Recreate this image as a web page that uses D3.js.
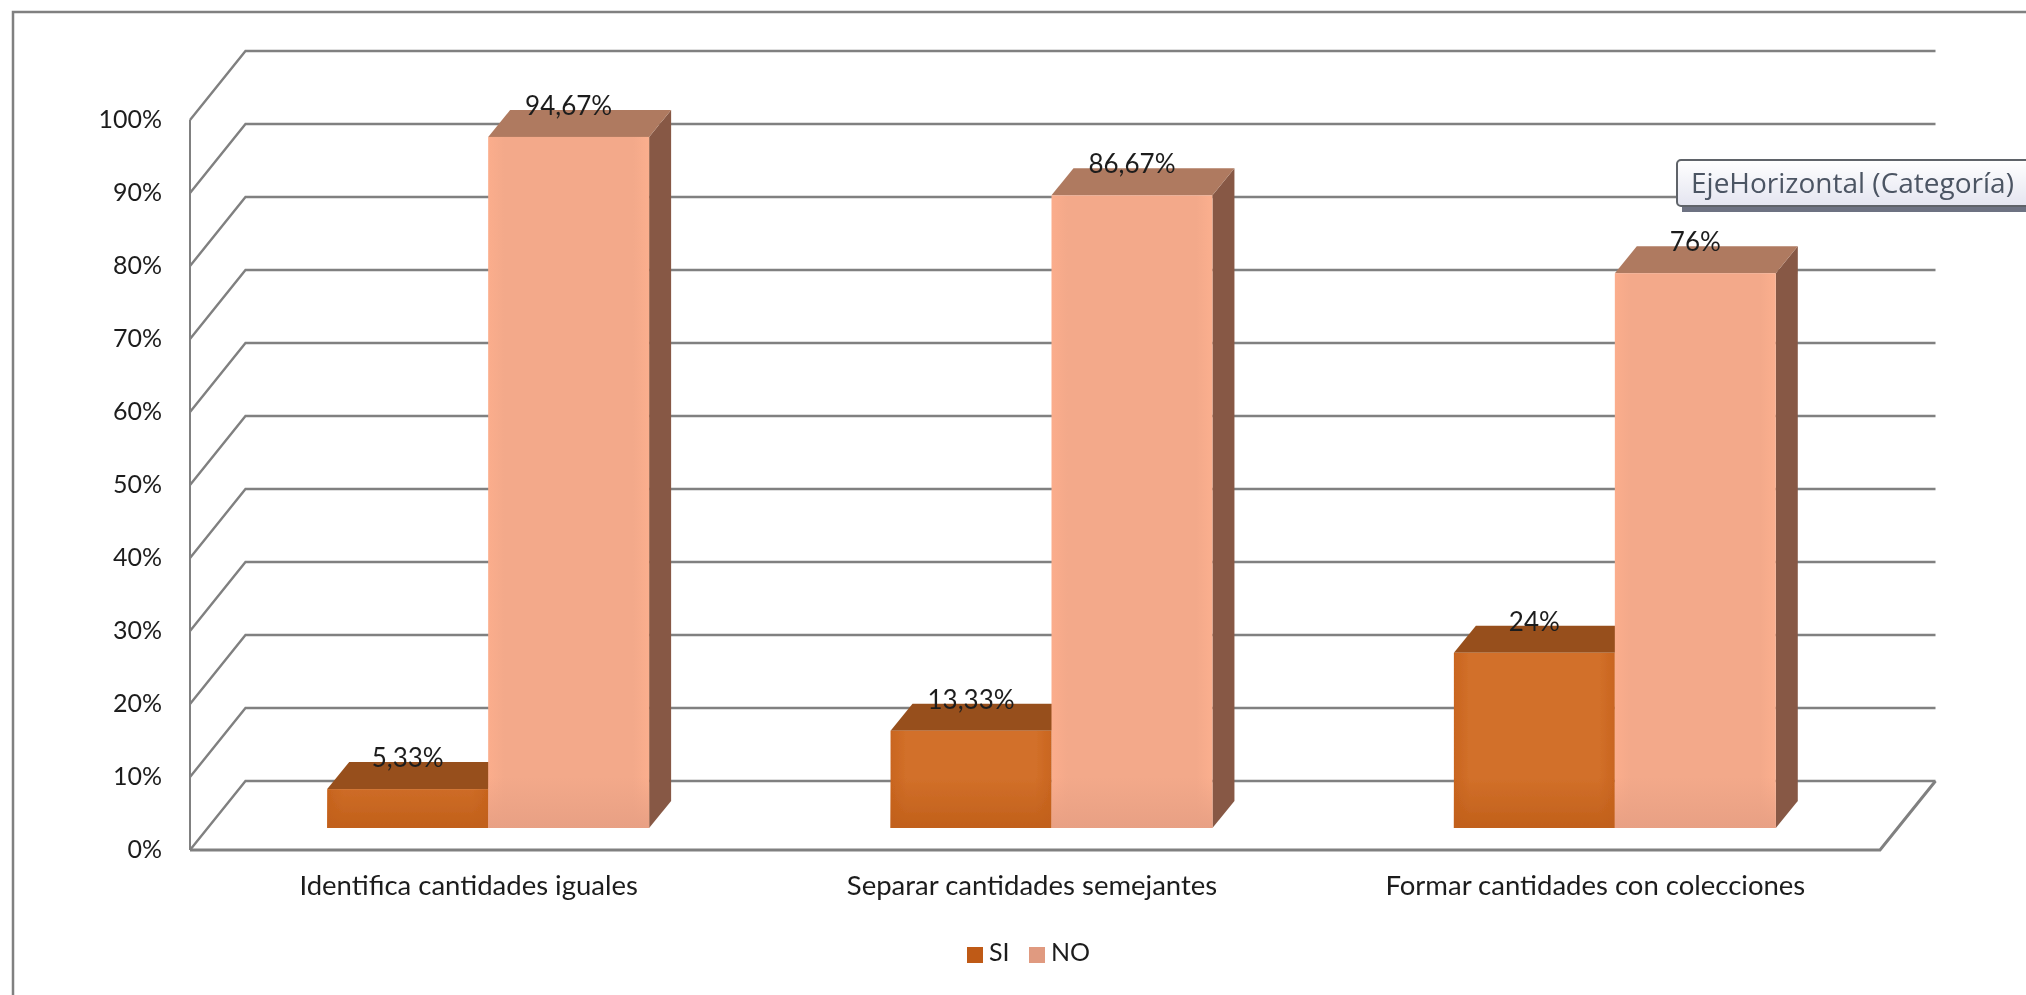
<!DOCTYPE html>
<html lang="es">
<head>
<meta charset="utf-8">
<title>Identifica cantidades</title>
<script src="https://cdn.jsdelivr.net/npm/d3@7"></script>
<style>
    html, body { margin: 0; padding: 0; background: #fff; overflow: hidden; }
    svg { display: block; }
    text { font-family: Lato, "Noto Sans", sans-serif; fill: #1e1e1e; }
</style>
</head>
<body>
<svg id="chart" width="2026" height="995"></svg>
<script>
// Chart data
const categories = ['Identifica cantidades iguales', 'Separar cantidades semejantes', 'Formar cantidades con colecciones'];
const seriesNames = ['SI', 'NO'];
const siValues = [5.33, 13.33, 24];
const noValues = [94.67, 86.67, 76];
const yTicks = [0, 10, 20, 30, 40, 50, 60, 70, 80, 90, 100];
const tooltipLabel = 'EjeHorizontal (Categoría)';

const width = 2026;
const height = 995;
const gridColor = '#808080';

// Plot box, front plane of the floor
const plot = { left: 190, right: 1880, top: 120, bottom: 850 };
const wallDepth = { x: 55.5, y: -69 };   // front plane to back wall
const floorInset = { x: 16.5, y: -22 };  // front plane to front of the bars
const barDepth = { x: 22, y: -27 };      // thickness of a bar

const colors = {
    SI: { left: '#c9651f', mid: '#d2702a', right: '#c9651f', foot: '#c1601b', top: '#97501d', side: '#7d4518', key: '#bf5a12' },
    NO: { left: '#fbad8c', mid: '#f3a98a', right: '#fbaf8e', foot: '#e8a084', top: '#af7a60', side: '#875945', key: '#e09a80' }
};

// Scales
const yScale = d3.scaleLinear().domain([0, 100]).range([plot.bottom, plot.top]);

const xScale = d3.scaleBand()
    .domain(categories)
    .range([plot.left, plot.right]);

const xInner = d3.scaleBand()
    .domain(seriesNames)
    .range([0, xScale.bandwidth()])
    .paddingInner(0)
    .paddingOuter(0.75);

const svg = d3.select('#chart');
const defs = svg.append('defs');

const addBlur = (id, amount) => defs.append('filter').attr('id', id)
    .attr('filterUnits', 'userSpaceOnUse')
    .attr('x', 0).attr('y', 0)
    .attr('width', width).attr('height', height)
    .append('feGaussianBlur').attr('stdDeviation', amount);

addBlur('soft', 0.7);
addBlur('soft-text', 0.35);

seriesNames.forEach(name => {
    const grad = defs.append('linearGradient').attr('id', `face-${name}`);
    grad.append('stop').attr('offset', '0%').attr('stop-color', colors[name].left);
    grad.append('stop').attr('offset', '10%').attr('stop-color', colors[name].mid);
    grad.append('stop').attr('offset', '90%').attr('stop-color', colors[name].mid);
    grad.append('stop').attr('offset', '100%').attr('stop-color', colors[name].right);

    // Darker strip at the foot of the front face, measured in the bar group's units
    const foot = defs.append('linearGradient').attr('id', `foot-${name}`)
        .attr('gradientUnits', 'userSpaceOnUse')
        .attr('x1', 0).attr('y1', yScale(7)).attr('x2', 0).attr('y2', yScale(0));
    foot.append('stop').attr('offset', '0%').attr('stop-color', colors[name].foot).attr('stop-opacity', 0);
    foot.append('stop').attr('offset', '100%').attr('stop-color', colors[name].foot).attr('stop-opacity', 1);
});

const tipGrad = defs.append('linearGradient').attr('id', 'tip')
    .attr('x1', 0).attr('y1', 0).attr('x2', 0).attr('y2', 1);
tipGrad.append('stop').attr('offset', '0%').attr('stop-color', '#ffffff');
tipGrad.append('stop').attr('offset', '100%').attr('stop-color', '#e4e5f0');

const rows = categories.map((category, i) => ({ category, SI: siValues[i], NO: noValues[i] }));

const formatValue = v => `${String(v).replace('.', ',')}%`;

// Shapes get a stronger blur than the text, the reference is a soft screenshot
const root = svg.append('g').attr('filter', 'url(#soft)');
const textLayer = svg.append('g').attr('filter', 'url(#soft-text)');

root.append('rect').attr('width', width).attr('height', height).attr('fill', '#fff');

// Outer frame, only top and left edges are in the picture
root.append('path')
    .attr('d', `M13,${height} V12 H${width}`)
    .attr('fill', 'none')
    .attr('stroke', gridColor)
    .attr('stroke-width', 2.5);

// Grid on the back wall and side wall
const grid = root.append('g')
    .attr('fill', 'none')
    .attr('stroke', gridColor);

grid.selectAll('.wall-line')
    .data(yTicks)
    .join('path')
    .attr('class', 'wall-line')
    .attr('stroke-width', 2.4)
    .attr('d', d => `M${plot.left},${yScale(d)} L${plot.left + wallDepth.x},${yScale(d) + wallDepth.y} H${plot.right + wallDepth.x}`);

// Side wall edge, then floor right edge and front edge
grid.append('path')
    .attr('stroke-width', 2)
    .attr('d', `M${plot.left},${yScale(100)} V${yScale(0)}`);

grid.append('path')
    .attr('stroke-width', 3)
    .attr('d', `M${plot.right + wallDepth.x},${yScale(0) + wallDepth.y} L${plot.right},${yScale(0)} H${plot.left}`);

// Axes
const yAxis = textLayer.append('g')
    .attr('class', 'y-axis')
    .attr('transform', `translate(${plot.left}, 0)`)
    .call(d3.axisLeft(yScale).tickValues(yTicks).tickSize(0).tickPadding(28).tickFormat(d => `${d}%`));
yAxis.select('.domain').remove();
yAxis.selectAll('text').attr('dy', '0.28em').style('font-size', '25px').attr('font-family', null);

const xAxis = textLayer.append('g')
    .attr('class', 'x-axis')
    .attr('transform', `translate(-3, ${plot.bottom})`)
    .call(d3.axisBottom(xScale).tickSize(0).tickPadding(25));
xAxis.select('.domain').remove();
xAxis.selectAll('text').style('font-size', '27.5px').attr('font-family', null);

// Bars, one extruded box per value
const barGroups = root.selectAll('.group')
    .data(rows)
    .join('g')
    .attr('class', 'group')
    .attr('transform', d => `translate(${xScale(d.category) + floorInset.x}, ${floorInset.y})`);

const bars = barGroups.selectAll('.bar')
    .data(d => seriesNames.map(name => ({ name, value: d[name] })))
    .join('g')
    .attr('class', 'bar');

const barW = xInner.bandwidth();
const barBase = yScale(0);

bars.append('path')
    .attr('fill', d => colors[d.name].side)
    .attr('d', d => {
        const x = xInner(d.name) + barW;
        const y = yScale(d.value);
        return `M${x},${y} l${barDepth.x},${barDepth.y} V${barBase + barDepth.y} L${x},${barBase} Z`;
    });

bars.append('path')
    .attr('fill', d => colors[d.name].top)
    .attr('d', d => {
        const x = xInner(d.name);
        const y = yScale(d.value);
        return `M${x},${y} l${barDepth.x},${barDepth.y} h${barW} l${-barDepth.x},${-barDepth.y} Z`;
    });

bars.append('rect')
    .attr('x', d => xInner(d.name))
    .attr('y', d => yScale(d.value))
    .attr('width', barW)
    .attr('height', d => barBase - yScale(d.value))
    .attr('fill', d => `url(#face-${d.name})`);

bars.append('rect')
    .attr('x', d => xInner(d.name))
    .attr('y', d => yScale(d.value))
    .attr('width', barW)
    .attr('height', d => barBase - yScale(d.value))
    .attr('fill', d => `url(#foot-${d.name})`);

// Value labels sit on the back edge of the top face
textLayer.selectAll('.value-group')
    .data(rows)
    .join('g')
    .attr('class', 'value-group')
    .attr('transform', d => `translate(${xScale(d.category) + floorInset.x}, ${floorInset.y})`)
    .selectAll('text')
    .data(d => seriesNames.map(name => ({ name, value: d[name] })))
    .join('text')
    .attr('x', d => xInner(d.name) + barW / 2)
    .attr('y', d => yScale(d.value) + barDepth.y - 4)
    .attr('dy', '0.35em')
    .attr('text-anchor', 'middle')
    .style('font-size', '26px')
    .text(d => formatValue(d.value));

// Legend
const legendX = d3.scaleOrdinal().domain(seriesNames).range([967, 1029]);

root.append('g').selectAll('rect')
    .data(seriesNames)
    .join('rect')
    .attr('x', d => legendX(d))
    .attr('y', 947)
    .attr('width', 16)
    .attr('height', 16)
    .attr('fill', d => colors[d].key);

textLayer.append('g').selectAll('text')
    .data(seriesNames)
    .join('text')
    .attr('x', d => legendX(d) + 22)
    .attr('y', 952)
    .attr('dy', '0.35em')
    .style('font-size', '25px')
    .text(d => d);

// Tooltip left open over the chart
const tip = root.append('g').attr('class', 'tooltip');

tip.append('rect')
    .attr('x', 1682).attr('y', 166)
    .attr('width', 360).attr('height', 46)
    .attr('fill', '#6d7282');

tip.append('rect')
    .attr('x', 1677).attr('y', 160)
    .attr('width', 360).attr('height', 46)
    .attr('rx', 4)
    .attr('fill', 'url(#tip)')
    .attr('stroke', '#5f6469')
    .attr('stroke-width', 2);

textLayer.append('text')
    .attr('x', 1691)
    .attr('y', 183)
    .attr('dy', '0.35em')
    .style('font-family', '"Open Sans", sans-serif')
    .style('font-size', '28px')
    .style('fill', '#4c5463')
    .text(tooltipLabel);
</script>
</body>
</html>
